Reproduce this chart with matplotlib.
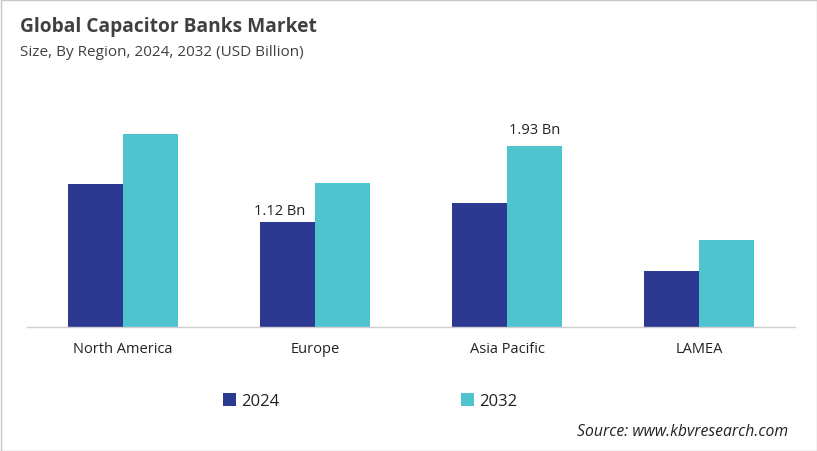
import matplotlib
matplotlib.use("Agg")
import matplotlib.pyplot as plt
from matplotlib.patches import Rectangle
import numpy as np

regions = ["North America", "Europe", "Asia Pacific", "LAMEA"]
years = ["2024", "2032"]
values_2024 = [1.52, 1.12, 1.32, 0.60]
values_2032 = [2.05, 1.53, 1.93, 0.93]
labels_2024 = {1: "1.12 Bn"}
labels_2032 = {2: "1.93 Bn"}

c2024 = "#2B3990"
c2032 = "#4FC4CF"
txt = "#404040"

plt.rcParams['font.family'] = ['Open Sans', 'DejaVu Sans']

fig = plt.figure(figsize=(8.17, 4.52), dpi=100)
ax = fig.add_axes([27/817, 1-328/452, 768/817, 228/452])

x = np.arange(len(regions))
w = 0.286
b1 = ax.bar(x - w/2, values_2024, w, color=c2024, label=years[0])
b2 = ax.bar(x + w/2, values_2032, w, color=c2032, label=years[1])

for i, t in labels_2024.items():
    ax.text(x[i] - w/2 - 0.04, values_2024[i] + 0.04, t, ha="center", va="bottom",
            fontsize=10.5, color="#222222")
for i, t in labels_2032.items():
    ax.text(x[i] + w/2, values_2032[i] + 0.09, t, ha="center", va="bottom",
            fontsize=10.5, color="#222222")

ax.set_xlim(-0.5, 3.5)
ax.set_ylim(0, 228/94)
ax.set_xticks(x)
ax.set_xticklabels(regions, fontsize=10.5, color="#222222")
ax.tick_params(axis="x", length=0, pad=10)
ax.set_yticks([])
for s in ["top", "right", "left"]:
    ax.spines[s].set_visible(False)
ax.spines["bottom"].set_color("#D0D0D0")
ax.spines["bottom"].set_linewidth(1.0)

# legend
leg = fig.legend(handles=[b1, b2], labels=years, loc="center",
                 bbox_to_anchor=(370/817, 1-402/452), ncol=2, frameon=False,
                 fontsize=12, handlelength=0.8, handleheight=0.8, handletextpad=0.3,
                 columnspacing=10.9)
for t in leg.get_texts():
    t.set_color("#222222")

fig.text(20/817, 1-27/452, "Global Capacitor Banks Market", fontsize=13.8,
         fontweight="bold", color=txt, ha="left", va="center")
fig.text(20/817, 1-53/452, "Size, By Region, 2024, 2032 (USD Billion)", fontsize=11,
         color=txt, ha="left", va="center")
fig.text(788/817, 1-432/452, "Source: www.kbvresearch.com", fontsize=11.3,
         style="italic", color="#222222", ha="right", va="center")

# light border around the image
fig.patches.append(Rectangle((0.5/817, 0.5/452), 1-1/817, 1-1/452, transform=fig.transFigure,
                             fill=False, edgecolor="#C8C8C8", linewidth=1.0))

fig.savefig("out.png", dpi=100, facecolor="white")
